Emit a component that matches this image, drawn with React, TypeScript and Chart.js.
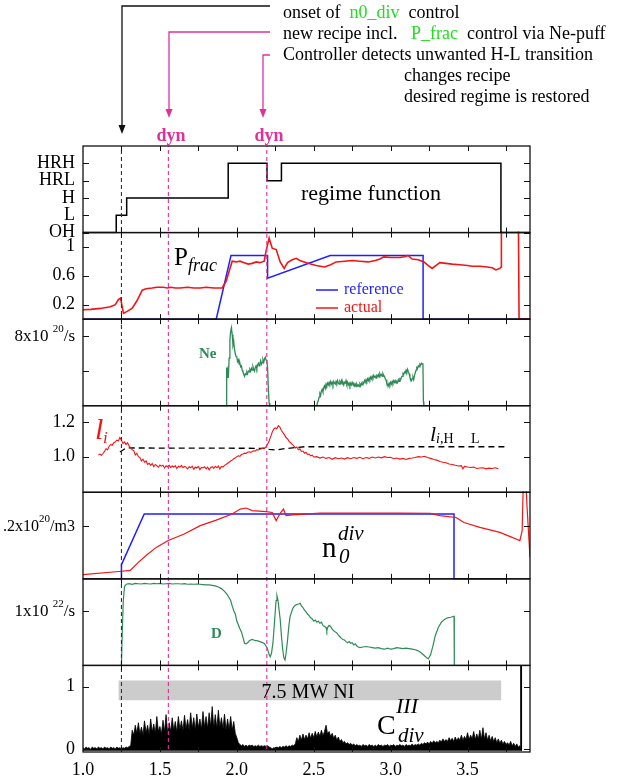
import React, { useEffect, useRef } from 'react';
import { Chart, registerables } from 'chart.js';

Chart.register(...registerables);

// ---------------- data ----------------
const X_MIN = 1.0;
const X_MAX = 3.906;
const xTickLabels = [1.0, 1.5, 2.0, 2.5, 3.0, 3.5];
const xMinorTicks = [1.25, 1.5, 1.75, 2.0, 2.25, 2.5, 2.75, 3.0, 3.25, 3.5, 3.75];

// event markers (time)
const markerOnset = 1.25;
const markerDyn = [1.555, 2.195];

// panel 0: regime function
const regimeLevels = ['OH', 'L', 'H', 'HRL', 'HRH'];
const regimeTickValues = [0, 1, 2, 3, 4];
const regimeTime = [1.0, 1.216, 1.284, 1.944, 2.196, 2.29, 3.717, 3.906];
const regimeValue = [0, 1, 2, 4, 3, 4, 0, 0];

// panel 1: P_frac
const pfracTicks = [0.2, 0.6, 1.0];
const pfracTickLabels = ['0.2', '0.6', '1'];
const pfracRefTime = [1.0, 1.866, 1.962, 2.2, 2.2, 2.607, 3.211, 3.211, 3.906];
const pfracRefValue = [0, 0, 0.877, 0.877, 0.566, 0.877, 0.877, 0, 0];
const pfracActTime = [1.0, 1.05, 1.113, 1.15, 1.178, 1.21, 1.23, 1.244, 1.263, 1.29, 1.32, 1.35, 1.385, 1.41, 1.45, 1.48, 1.52, 1.55, 1.57, 1.6, 1.632, 1.68, 1.72, 1.762, 1.8, 1.85, 1.905, 1.93, 1.97, 1.996, 2.02, 2.048, 2.074, 2.1, 2.126, 2.15, 2.178, 2.19, 2.21, 2.23, 2.256, 2.282, 2.308, 2.33, 2.36, 2.386, 2.41, 2.438, 2.48, 2.516, 2.57, 2.61, 2.646, 2.7, 2.75, 2.8, 2.854, 2.9, 2.93, 2.956, 3.0, 3.06, 3.09, 3.113, 3.14, 3.18, 3.217, 3.245, 3.27, 3.3, 3.32, 3.36, 3.4, 3.45, 3.5, 3.53, 3.58, 3.63, 3.66, 3.685, 3.71, 3.718, 3.72, 3.83, 3.835, 3.906];
const pfracActValue = [0.13, 0.135, 0.148, 0.16, 0.17, 0.2, 0.27, 0.29, 0.08, 0.11, 0.15, 0.25, 0.4, 0.42, 0.43, 0.44, 0.44, 0.43, 0.44, 0.43, 0.43, 0.44, 0.43, 0.43, 0.44, 0.43, 0.43, 0.52, 0.8, 0.79, 0.8, 0.78, 0.76, 0.77, 0.79, 0.78, 0.8, 0.94, 1.12, 0.98, 0.96, 0.79, 0.7, 0.78, 0.82, 0.84, 0.81, 0.79, 0.76, 0.74, 0.72, 0.75, 0.79, 0.8, 0.81, 0.8, 0.79, 0.81, 0.83, 0.86, 0.85, 0.85, 0.86, 0.88, 0.83, 0.82, 0.79, 0.74, 0.7, 0.75, 0.78, 0.77, 0.76, 0.75, 0.74, 0.73, 0.73, 0.72, 0.71, 0.68, 0.7, 0.72, 1.5, 1.5, 0, 0];

// panel 2: Ne puff (1e20/s)
const neTicks = [4, 8];
const neTime = [1.25, 1.93, 1.932, 1.936, 1.94, 1.945, 1.95, 1.955, 1.96, 1.965, 1.97, 1.975, 1.98, 1.985, 1.99, 1.995, 2.0, 2.005, 2.01, 2.015, 2.02, 2.025, 2.03, 2.035, 2.04, 2.045, 2.05, 2.055, 2.06, 2.065, 2.07, 2.075, 2.08, 2.085, 2.09, 2.095, 2.1, 2.105, 2.11, 2.115, 2.12, 2.125, 2.13, 2.135, 2.14, 2.145, 2.15, 2.155, 2.16, 2.165, 2.17, 2.175, 2.18, 2.185, 2.19, 2.195, 2.2, 2.205, 2.21, 2.215, 2.52, 2.525, 2.53, 2.535, 2.54, 2.545, 2.55, 2.555, 2.56, 2.565, 2.57, 2.575, 2.58, 2.585, 2.59, 2.595, 2.6, 2.605, 2.61, 2.615, 2.62, 2.625, 2.63, 2.635, 2.64, 2.645, 2.65, 2.655, 2.66, 2.665, 2.67, 2.675, 2.68, 2.685, 2.69, 2.695, 2.7, 2.705, 2.71, 2.715, 2.72, 2.725, 2.73, 2.735, 2.74, 2.745, 2.75, 2.755, 2.76, 2.765, 2.77, 2.775, 2.78, 2.785, 2.79, 2.795, 2.8, 2.805, 2.81, 2.815, 2.82, 2.825, 2.83, 2.835, 2.84, 2.845, 2.85, 2.855, 2.86, 2.865, 2.87, 2.875, 2.88, 2.885, 2.89, 2.895, 2.9, 2.905, 2.91, 2.915, 2.92, 2.925, 2.93, 2.935, 2.94, 2.945, 2.95, 2.955, 2.96, 2.965, 2.97, 2.975, 2.98, 2.985, 2.99, 2.995, 3.0, 3.005, 3.01, 3.015, 3.02, 3.025, 3.03, 3.035, 3.04, 3.045, 3.05, 3.055, 3.06, 3.065, 3.07, 3.075, 3.08, 3.085, 3.09, 3.095, 3.1, 3.105, 3.11, 3.115, 3.12, 3.125, 3.13, 3.135, 3.14, 3.145, 3.15, 3.155, 3.16, 3.165, 3.17, 3.175, 3.18, 3.185, 3.19, 3.195, 3.2, 3.205, 3.21, 3.213, 3.216, 3.4];
const neValue = [0, 0, 4.4, 3.0, 4.0, 3.2, 5.5, 7.6, 8.6, 9.0, 8.2, 7.0, 7.4, 6.5, 6.0, 5.7, 5.6, 5.1, 5.3, 4.8, 4.9, 4.5, 4.6, 4.1, 3.9, 3.6, 3.4, 3.7, 3.6, 3.9, 3.7, 4.0, 3.9, 4.2, 4.0, 4.3, 4.1, 4.5, 4.2, 4.0, 4.4, 4.6, 4.3, 4.7, 4.9, 4.6, 4.9, 5.2, 4.8, 5.0, 5.3, 5.0, 5.4, 5.6, 5.3, 5.2, 4.4, 2.0, 0.3, 0, 0, 0.4, 0.6, 1.0, 1.4, 1.2, 1.7, 1.9, 1.6, 2.1, 2.3, 2.0, 2.5, 2.3, 2.6, 2.4, 2.7, 2.5, 2.8, 2.5, 2.7, 2.4, 2.8, 2.6, 2.5, 2.8, 2.6, 2.9, 2.6, 2.5, 2.8, 2.6, 2.9, 2.5, 2.7, 2.4, 2.7, 2.6, 2.9, 2.5, 2.7, 2.4, 2.6, 2.3, 2.6, 2.4, 2.7, 2.5, 2.6, 2.3, 2.5, 2.2, 2.5, 2.3, 2.4, 2.2, 2.5, 2.3, 2.6, 2.4, 2.7, 2.6, 2.9, 2.7, 3.0, 2.8, 3.1, 2.9, 3.2, 3.0, 3.3, 3.1, 3.4, 3.2, 3.5, 3.3, 3.4, 3.2, 3.5, 3.4, 3.6, 3.3, 3.7, 3.5, 3.6, 3.4, 3.7, 3.5, 3.4, 3.1, 3.0, 2.6, 2.5, 2.3, 2.6, 2.4, 2.7, 2.5, 2.8, 2.6, 2.9, 2.7, 2.9, 2.6, 2.8, 2.7, 3.0, 2.8, 3.1, 3.0, 3.3, 3.4, 3.7, 3.6, 3.9, 3.8, 4.1, 3.9, 4.2, 3.9, 3.7, 3.3, 3.1, 2.9, 3.1, 3.3, 3.0, 3.5, 3.8, 4.1, 4.4, 4.3, 4.6, 4.5, 4.8, 4.7, 4.9, 4.8, 4.9, 0.5, 0, 0];

// panel 3: internal inductance l_i
const liTicks = [1.0, 1.2];
const liTickLabels = ['1.0', '1.2'];
const liTime = [1.1, 1.11, 1.12, 1.13, 1.14, 1.15, 1.16, 1.17, 1.18, 1.19, 1.2, 1.21, 1.22, 1.23, 1.24, 1.25, 1.26, 1.27, 1.28, 1.29, 1.3, 1.31, 1.32, 1.33, 1.34, 1.35, 1.36, 1.37, 1.38, 1.39, 1.4, 1.41, 1.42, 1.43, 1.44, 1.45, 1.46, 1.47, 1.48, 1.49, 1.5, 1.51, 1.52, 1.53, 1.54, 1.55, 1.56, 1.57, 1.58, 1.59, 1.6, 1.61, 1.62, 1.63, 1.64, 1.65, 1.66, 1.67, 1.68, 1.69, 1.7, 1.71, 1.72, 1.73, 1.74, 1.75, 1.76, 1.77, 1.78, 1.79, 1.8, 1.81, 1.82, 1.83, 1.84, 1.85, 1.86, 1.87, 1.88, 1.89, 1.9, 1.91, 1.92, 1.93, 1.94, 1.95, 1.96, 1.97, 1.98, 1.99, 2.0, 2.01, 2.02, 2.03, 2.04, 2.05, 2.06, 2.07, 2.08, 2.09, 2.1, 2.11, 2.12, 2.13, 2.14, 2.15, 2.16, 2.17, 2.18, 2.19, 2.2, 2.21, 2.22, 2.23, 2.24, 2.25, 2.26, 2.27, 2.28, 2.29, 2.3, 2.31, 2.32, 2.33, 2.34, 2.35, 2.36, 2.37, 2.38, 2.39, 2.4, 2.41, 2.42, 2.43, 2.44, 2.45, 2.46, 2.47, 2.48, 2.49, 2.5, 2.52, 2.54, 2.56, 2.58, 2.6, 2.62, 2.64, 2.66, 2.68, 2.7, 2.72, 2.74, 2.76, 2.78, 2.8, 2.82, 2.84, 2.86, 2.88, 2.9, 2.92, 2.94, 2.96, 2.98, 3.0, 3.02, 3.04, 3.06, 3.08, 3.1, 3.12, 3.14, 3.16, 3.18, 3.2, 3.22, 3.24, 3.26, 3.28, 3.3, 3.32, 3.34, 3.36, 3.38, 3.4, 3.42, 3.44, 3.46, 3.47, 3.48, 3.5, 3.52, 3.54, 3.56, 3.58, 3.6, 3.62, 3.64, 3.66, 3.68, 3.7];
const liValue = [1.01, 1.015, 1.008, 1.018, 1.03, 1.045, 1.04, 1.06, 1.07, 1.065, 1.08, 1.085, 1.095, 1.09, 1.11, 1.095, 1.075, 1.085, 1.07, 1.08, 1.06, 1.05, 1.04, 1.035, 1.01, 1.02, 1.0, 0.995, 0.975, 0.985, 0.968, 0.975, 0.955, 0.962, 0.95, 0.96, 0.942, 0.955, 0.948, 0.938, 0.952, 0.945, 0.95, 0.935, 0.948, 0.942, 0.95, 0.938, 0.946, 0.94, 0.948, 0.932, 0.945, 0.94, 0.95, 0.936, 0.944, 0.94, 0.93, 0.942, 0.936, 0.945, 0.928, 0.94, 0.935, 0.944, 0.925, 0.938, 0.935, 0.942, 0.93, 0.94, 0.924, 0.938, 0.942, 0.932, 0.944, 0.936, 0.946, 0.93, 0.944, 0.94, 0.95, 0.955, 0.962, 0.968, 0.975, 0.98, 0.988, 0.992, 1.0, 1.005, 1.002, 1.012, 1.015, 1.02, 1.018, 1.025, 1.028, 1.024, 1.03, 1.034, 1.032, 1.04, 1.038, 1.042, 1.045, 1.05, 1.048, 1.058, 1.072, 1.09, 1.115, 1.14, 1.158, 1.165, 1.16, 1.178, 1.17, 1.15, 1.138, 1.125, 1.11, 1.102, 1.088, 1.08, 1.07, 1.062, 1.05, 1.055, 1.04, 1.045, 1.03, 1.032, 1.02, 1.025, 1.012, 1.015, 1.005, 1.008, 0.998, 1.0, 0.992, 0.998, 0.99, 0.995, 0.985, 0.994, 0.988, 0.992, 0.986, 0.994, 0.988, 0.995, 0.99, 0.996, 0.988, 0.995, 0.99, 0.998, 0.992, 0.998, 0.993, 1.0, 0.995, 0.996, 0.988, 0.992, 0.986, 0.99, 0.984, 0.99, 0.992, 0.995, 1.0, 0.998, 1.002, 0.995, 0.99, 0.984, 0.98, 0.972, 0.968, 0.965, 0.958, 0.955, 0.95, 0.946, 0.948, 0.93, 0.944, 0.94, 0.938, 0.94, 0.932, 0.935, 0.936, 0.93, 0.934, 0.932, 0.936, 0.93];
const liHLTime = [1.24, 1.28, 2.18, 2.21, 2.25, 2.3, 2.44, 3.75];
const liHLValue = [1.027, 1.05, 1.048, 1.042, 1.038, 1.045, 1.057, 1.057];

// panel 4: divertor neutral density n0_div (1e20/m3)
const n0Ticks = [0.2];
const n0RefTime = [1.0, 1.25, 1.25, 1.398, 3.412, 3.412, 3.75];
const n0RefValue = [0, 0, 0.054, 0.247, 0.247, 0, 0];
const n0ActTime = [1.0, 1.25, 1.307, 1.36, 1.41, 1.476, 1.554, 1.658, 1.762, 1.866, 1.97, 2.022, 2.061, 2.1, 2.191, 2.23, 2.256, 2.282, 2.303, 2.32, 2.36, 2.438, 2.542, 2.8, 3.06, 3.257, 3.32, 3.425, 3.477, 3.58, 3.71, 3.79, 3.815, 3.84, 3.855, 3.868, 3.887, 3.906];
const n0ActValue = [0.016, 0.029, 0.032, 0.063, 0.089, 0.12, 0.146, 0.171, 0.203, 0.224, 0.247, 0.266, 0.27, 0.26, 0.256, 0.253, 0.222, 0.25, 0.266, 0.241, 0.244, 0.247, 0.251, 0.251, 0.251, 0.25, 0.241, 0.234, 0.215, 0.196, 0.177, 0.158, 0.152, 0.146, 0.184, 0.5, 0.272, 0.082];

// panel 5: D puff (1e22/s)
const dTicks = [1];
const dTime = [1.25, 1.255, 1.262, 1.27, 1.281, 1.3, 1.32, 1.34, 1.36, 1.38, 1.4, 1.42, 1.44, 1.46, 1.48, 1.5, 1.52, 1.54, 1.56, 1.58, 1.6, 1.62, 1.64, 1.66, 1.68, 1.7, 1.72, 1.74, 1.76, 1.78, 1.8, 1.82, 1.84, 1.86, 1.88, 1.9, 1.92, 1.935, 1.95, 1.96, 1.97, 1.98, 1.99, 2.0, 2.01, 2.02, 2.03, 2.04, 2.05, 2.06, 2.07, 2.08, 2.09, 2.1, 2.11, 2.12, 2.13, 2.14, 2.15, 2.16, 2.17, 2.18, 2.19, 2.2, 2.21, 2.217, 2.225, 2.235, 2.245, 2.255, 2.261, 2.268, 2.275, 2.282, 2.29, 2.298, 2.306, 2.313, 2.32, 2.329, 2.338, 2.346, 2.355, 2.365, 2.375, 2.385, 2.395, 2.405, 2.412, 2.42, 2.43, 2.44, 2.45, 2.46, 2.47, 2.48, 2.49, 2.5, 2.51, 2.52, 2.53, 2.54, 2.55, 2.56, 2.57, 2.58, 2.585, 2.59, 2.6, 2.61, 2.62, 2.63, 2.64, 2.65, 2.66, 2.67, 2.68, 2.69, 2.7, 2.71, 2.72, 2.73, 2.74, 2.75, 2.76, 2.77, 2.78, 2.79, 2.8, 2.82, 2.84, 2.86, 2.88, 2.9, 2.92, 2.94, 2.96, 2.98, 3.0, 3.02, 3.04, 3.06, 3.08, 3.1, 3.12, 3.14, 3.16, 3.18, 3.2, 3.22, 3.235, 3.245, 3.26, 3.275, 3.29, 3.31, 3.33, 3.35, 3.37, 3.39, 3.4, 3.412, 3.414];
const dValue = [0, 0.6, 1.2, 1.46, 1.5, 1.51, 1.5, 1.515, 1.51, 1.505, 1.515, 1.51, 1.505, 1.515, 1.51, 1.515, 1.505, 1.51, 1.515, 1.505, 1.51, 1.51, 1.505, 1.51, 1.5, 1.505, 1.5, 1.505, 1.5, 1.495, 1.49, 1.49, 1.48, 1.47, 1.45, 1.42, 1.37, 1.32, 1.25, 1.2, 1.1, 1.01, 0.95, 0.82, 0.75, 0.68, 0.62, 0.52, 0.41, 0.4, 0.42, 0.45, 0.47, 0.48, 0.47, 0.46, 0.46, 0.45, 0.44, 0.43, 0.42, 0.4, 0.36, 0.3, 0.2, 0.16, 0.22, 0.42, 0.8, 1.2, 1.29, 1.2, 1.02, 0.85, 0.55, 0.3, 0.14, 0.1, 0.22, 0.45, 0.72, 0.9, 0.98, 1.06, 1.1, 1.12, 1.13, 1.14, 1.15, 1.1, 1.07, 1.02, 0.99, 0.95, 0.92, 0.88, 0.86, 0.82, 0.84, 0.8, 0.82, 0.78, 0.8, 0.74, 0.72, 0.7, 0.64, 0.7, 0.74, 0.72, 0.67, 0.64, 0.62, 0.6, 0.56, 0.53, 0.5, 0.48, 0.47, 0.44, 0.42, 0.44, 0.41, 0.42, 0.38, 0.4, 0.36, 0.34, 0.33, 0.34, 0.35, 0.34, 0.33, 0.32, 0.33, 0.31, 0.3, 0.32, 0.3, 0.31, 0.33, 0.32, 0.31, 0.32, 0.31, 0.3, 0.29, 0.27, 0.23, 0.18, 0.14, 0.12, 0.2, 0.36, 0.55, 0.7, 0.8, 0.85, 0.88, 0.89, 0.9, 0.91, 0];

// panel 6: C III divertor radiation
const ciiiTicks = [0, 1];
const ciiiTime = [1.0, 1.01, 1.02, 1.03, 1.04, 1.05, 1.06, 1.07, 1.08, 1.09, 1.1, 1.11, 1.12, 1.13, 1.14, 1.15, 1.16, 1.17, 1.18, 1.19, 1.2, 1.21, 1.22, 1.23, 1.24, 1.25, 1.26, 1.27, 1.28, 1.29, 1.3, 1.31, 1.32, 1.33, 1.34, 1.35, 1.36, 1.37, 1.38, 1.39, 1.4, 1.41, 1.42, 1.43, 1.44, 1.45, 1.46, 1.47, 1.48, 1.49, 1.5, 1.51, 1.52, 1.53, 1.54, 1.55, 1.56, 1.57, 1.58, 1.59, 1.6, 1.61, 1.62, 1.63, 1.64, 1.65, 1.66, 1.67, 1.68, 1.69, 1.7, 1.71, 1.72, 1.73, 1.74, 1.75, 1.76, 1.77, 1.78, 1.79, 1.8, 1.81, 1.82, 1.83, 1.84, 1.85, 1.86, 1.87, 1.88, 1.89, 1.9, 1.91, 1.92, 1.93, 1.94, 1.95, 1.96, 1.97, 1.98, 1.99, 2.0, 2.01, 2.02, 2.03, 2.04, 2.05, 2.06, 2.07, 2.08, 2.09, 2.1, 2.11, 2.12, 2.13, 2.14, 2.15, 2.16, 2.17, 2.18, 2.19, 2.2, 2.21, 2.22, 2.23, 2.24, 2.25, 2.26, 2.27, 2.28, 2.29, 2.3, 2.31, 2.32, 2.33, 2.34, 2.35, 2.36, 2.37, 2.38, 2.39, 2.4, 2.41, 2.42, 2.43, 2.44, 2.45, 2.46, 2.47, 2.48, 2.49, 2.5, 2.51, 2.52, 2.53, 2.54, 2.55, 2.56, 2.57, 2.58, 2.59, 2.6, 2.61, 2.62, 2.63, 2.64, 2.65, 2.66, 2.67, 2.68, 2.69, 2.7, 2.71, 2.72, 2.73, 2.74, 2.75, 2.76, 2.77, 2.78, 2.79, 2.8, 2.81, 2.82, 2.83, 2.84, 2.85, 2.86, 2.87, 2.88, 2.89, 2.9, 2.91, 2.92, 2.93, 2.94, 2.95, 2.96, 2.97, 2.98, 2.99, 3.0, 3.01, 3.02, 3.03, 3.04, 3.05, 3.06, 3.07, 3.08, 3.09, 3.1, 3.11, 3.12, 3.13, 3.14, 3.15, 3.16, 3.17, 3.18, 3.19, 3.2, 3.21, 3.22, 3.23, 3.24, 3.25, 3.26, 3.27, 3.28, 3.29, 3.3, 3.31, 3.32, 3.33, 3.34, 3.35, 3.36, 3.37, 3.38, 3.39, 3.4, 3.41, 3.42, 3.43, 3.44, 3.45, 3.46, 3.47, 3.48, 3.49, 3.5, 3.51, 3.52, 3.53, 3.54, 3.55, 3.56, 3.57, 3.58, 3.59, 3.6, 3.61, 3.62, 3.63, 3.64, 3.65, 3.66, 3.67, 3.68, 3.69, 3.7, 3.71, 3.72, 3.73, 3.74, 3.75, 3.76, 3.77, 3.78, 3.79, 3.8, 3.81, 3.82, 3.83, 3.84, 3.843, 3.845, 3.849, 3.851];
const ciiiValue = [0.02, 0.0, 0.03, 0.01, 0.02, -0.01, 0.03, 0.01, 0.02, 0.0, 0.03, 0.01, 0.02, 0.0, 0.03, 0.01, 0.02, 0.0, 0.03, 0.01, 0.02, 0.0, 0.03, 0.01, 0.02, 0.0, 0.02, 0.01, 0.03, 0.02, 0.04, 0.05, 0.3, 0.22, 0.38, 0.25, 0.42, 0.24, 0.35, 0.22, 0.45, 0.26, 0.38, 0.23, 0.48, 0.27, 0.4, 0.25, 0.52, 0.28, 0.36, 0.24, 0.46, 0.27, 0.55, 0.26, 0.42, 0.28, 0.5, 0.3, 0.44, 0.27, 0.52, 0.31, 0.45, 0.29, 0.54, 0.32, 0.47, 0.3, 0.58, 0.33, 0.5, 0.3, 0.56, 0.34, 0.48, 0.32, 0.6, 0.35, 0.52, 0.33, 0.58, 0.36, 0.68, 0.34, 0.55, 0.33, 0.62, 0.35, 0.5, 0.32, 0.56, 0.3, 0.48, 0.31, 0.52, 0.3, 0.44, 0.25, 0.18, 0.1, 0.07, 0.05, 0.07, 0.04, 0.06, 0.04, 0.06, 0.05, 0.06, 0.04, 0.05, 0.04, 0.06, 0.04, 0.05, 0.04, 0.05, 0.04, 0.05, 0.03, 0.02, 0.0, 0.02, 0.01, 0.03, 0.02, 0.04, 0.02, 0.04, 0.03, 0.05, 0.03, 0.05, 0.04, 0.06, 0.05, 0.08, 0.18, 0.12, 0.22, 0.14, 0.24, 0.15, 0.22, 0.16, 0.26, 0.17, 0.25, 0.18, 0.28, 0.19, 0.27, 0.2, 0.3, 0.21, 0.28, 0.38, 0.24, 0.28, 0.2, 0.25, 0.17, 0.22, 0.14, 0.19, 0.12, 0.15, 0.1, 0.12, 0.08, 0.1, 0.07, 0.09, 0.06, 0.08, 0.05, 0.07, 0.05, 0.06, 0.04, 0.07, 0.05, 0.06, 0.04, 0.07, 0.05, 0.06, 0.04, 0.06, 0.04, 0.07, 0.05, 0.06, 0.04, 0.06, 0.05, 0.07, 0.04, 0.06, 0.05, 0.07, 0.04, 0.06, 0.05, 0.07, 0.05, 0.06, 0.04, 0.07, 0.05, 0.06, 0.05, 0.08, 0.05, 0.07, 0.06, 0.08, 0.06, 0.09, 0.07, 0.1, 0.08, 0.11, 0.08, 0.12, 0.09, 0.13, 0.1, 0.12, 0.1, 0.14, 0.11, 0.16, 0.12, 0.15, 0.12, 0.18, 0.13, 0.17, 0.12, 0.19, 0.13, 0.18, 0.14, 0.22, 0.14, 0.2, 0.15, 0.26, 0.15, 0.22, 0.16, 0.28, 0.15, 0.24, 0.16, 0.3, 0.15, 0.34, 0.16, 0.26, 0.14, 0.22, 0.13, 0.2, 0.12, 0.18, 0.1, 0.16, 0.09, 0.14, 0.08, 0.12, 0.07, 0.1, 0.06, 0.12, 0.05, 0.09, 0.04, 0.08, 0.03, 0.05, 0.0, 1.34, 1.34, -0.03];

// heating window: 7.5 MW NI
const niTime = [1.23, 3.72];
const niUpper = [1.1, 1.1];
const niLower = [0.78, 0.78];

// panel ranges (value at bottom, value at top)
const panelRanges = [
  [0, 5],
  [0, 1.195],
  [0, 10],
  [0.795, 1.293],
  [0, 0.33],
  [0, 1.6],
  [-0.05, 1.34],
];

// ---------------- layout constants ----------------
const W = 624;
const H = 778;
const PAD_LEFT = 83;
const PAD_RIGHT = 94;
const PAD_TOP = 146;
const X_AXIS_H = 26;
const NPANEL = 7;
const BAND = (H - PAD_TOP - X_AXIS_H) / NPANEL;

const SERIF = '"Liberation Serif", "Times New Roman", serif';
const RED = '#f41414';
const BLUE = '#1f1fff';
const GREEN = '#2e8b57';
const MAGENTA = '#e0309a';
const LIME = '#22dd22';

function pts(xs: number[], ys: number[]) {
  return xs.map((x, i) => ({ x, y: ys[i] }));
}

function axisRange(k: number) {
  const [a, b] = panelRanges[k];
  const span = b - a;
  return { min: a - (NPANEL - 1 - k) * span, max: b + k * span };
}

function panelClip(k: number) {
  return { left: 0, right: 0, top: -(k * BAND) + 1, bottom: -((NPANEL - 1 - k) * BAND) + 1 };
}

function lineDs(label: string, xs: number[], ys: number[], k: number, color: string, width: number, extra: any = {}) {
  return {
    label,
    data: pts(xs, ys),
    yAxisID: 'y' + k,
    borderColor: color,
    backgroundColor: color,
    borderWidth: width,
    pointRadius: 0,
    tension: 0,
    fill: false,
    clip: panelClip(k),
    ...extra,
  };
}

function vline(label: string, x: number, color: string) {
  return {
    label,
    data: [{ x, y: 0.005 }, { x, y: 1 }],
    yAxisID: 'yAll',
    borderColor: color,
    borderWidth: 1.1,
    borderDash: [4, 3],
    pointRadius: 0,
    fill: false,
  };
}

// draw a sequence of text runs [text, font, dy, color?]
function drawRuns(ctx: CanvasRenderingContext2D, x: number, y: number, runs: [string, string, number, string?][], align: 'left' | 'right' = 'left') {
  let total = 0;
  for (const r of runs) {
    ctx.font = r[1];
    total += ctx.measureText(r[0]).width;
  }
  let cx = align === 'right' ? x - total : x;
  for (const r of runs) {
    ctx.font = r[1];
    if (r[3]) ctx.fillStyle = r[3];
    ctx.fillText(r[0], cx, y + r[2]);
    cx += ctx.measureText(r[0]).width;
  }
}

const f = (size: number, style = '') => `${style} ${size}px ${SERIF}`.trim();

const panelPlugin = {
  id: 'panelFrames',
  afterDraw(chart: any) {
    const ctx: CanvasRenderingContext2D = chart.ctx;
    const { left, right } = chart.chartArea;
    const xs = chart.scales.x;
    ctx.save();
    ctx.lineCap = 'butt';

    const line = (x1: number, y1: number, x2: number, y2: number) => {
      ctx.beginPath();
      ctx.moveTo(x1, y1);
      ctx.lineTo(x2, y2);
      ctx.stroke();
    };

    const tickSets = [regimeTickValues, pfracTicks, neTicks, liTicks, n0Ticks, dTicks, ciiiTicks];
    for (let k = 0; k < NPANEL; k++) {
      const ys = chart.scales['y' + k];
      const pTop = ys.getPixelForValue(panelRanges[k][1]);
      const pBot = ys.getPixelForValue(panelRanges[k][0]);
      ctx.strokeStyle = '#111';
      ctx.lineWidth = 1.3;
      ctx.strokeRect(left, pTop, right - left, pBot - pTop);
      ctx.lineWidth = 1;
      for (const v of xMinorTicks) {
        const px = Math.round(xs.getPixelForValue(v)) + 0.5;
        line(px, pTop, px, pTop + 5);
        line(px, pBot, px, pBot - 5);
      }
      for (const v of tickSets[k]) {
        const py = Math.round(ys.getPixelForValue(v)) + 0.5;
        line(left, py, left + 6, py);
        line(right, py, right - 6, py);
      }
    }

    // y tick labels
    ctx.fillStyle = '#000';
    ctx.textBaseline = 'middle';
    const LX = 75;
    const y0 = chart.scales.y0;
    regimeTickValues.forEach((v, i) => {
      drawRuns(ctx, LX, y0.getPixelForValue(v), [[regimeLevels[i], f(18), 0]], 'right');
    });
    const y1 = chart.scales.y1;
    pfracTicks.forEach((v, i) => drawRuns(ctx, LX, y1.getPixelForValue(v), [[pfracTickLabels[i], f(18), 0]], 'right'));
    const y2 = chart.scales.y2;
    drawRuns(ctx, LX, y2.getPixelForValue(8), [['8x10 ', f(17), 0], ['20', f(11), -7], ['/s', f(17), 0]], 'right');
    const y3 = chart.scales.y3;
    liTicks.forEach((v, i) => drawRuns(ctx, LX, y3.getPixelForValue(v), [[liTickLabels[i], f(18), 0]], 'right'));
    const y4 = chart.scales.y4;
    drawRuns(ctx, LX, y4.getPixelForValue(0.2), [['.2x10', f(16), 0], ['20', f(11), -7], ['/m3', f(16), 0]], 'right');
    const y5 = chart.scales.y5;
    drawRuns(ctx, LX, y5.getPixelForValue(1), [['1x10 ', f(17), 0], ['22', f(11), -7], ['/s', f(17), 0]], 'right');
    const y6 = chart.scales.y6;
    ciiiTicks.forEach((v) => drawRuns(ctx, LX, y6.getPixelForValue(v), [[String(v), f(18), 0]], 'right'));

    // panel annotations
    ctx.textBaseline = 'alphabetic';
    ctx.fillStyle = '#000';
    ctx.font = f(22);
    ctx.fillText('regime function', 301, 200);

    // P_frac
    drawRuns(ctx, 174, 265, [['P', f(25), 0, '#000'], ['frac', f(18, 'italic'), 6, '#000']]);
    // legend
    ctx.lineWidth = 1.5;
    ctx.strokeStyle = BLUE;
    line(316, 290, 338, 290);
    ctx.strokeStyle = RED;
    line(316, 308, 338, 308);
    ctx.textBaseline = 'middle';
    ctx.font = f(16);
    ctx.fillStyle = BLUE;
    ctx.fillText('reference', 344, 290);
    ctx.fillStyle = RED;
    ctx.fillText('actual', 344, 308);

    // Ne
    ctx.font = f(15, 'bold');
    ctx.fillStyle = GREEN;
    ctx.fillText('Ne', 199, 354);
    // D
    ctx.fillText('D', 211, 634);

    // l_i
    ctx.textBaseline = 'alphabetic';
    drawRuns(ctx, 95, 439, [['l', f(30, 'italic'), 0, RED]]);
    drawRuns(ctx, 103, 443, [['i', f(17, 'italic'), 0, RED]]);
    // l_i,H->L
    drawRuns(ctx, 430, 441, [['l', f(22, 'italic'), 0, '#000'], ['i', f(14, 'italic'), 2, '#000'], [',H', f(14), 2, '#000'], ['     L', f(14), 2, '#000']]);

    // n0 div
    ctx.fillStyle = '#000';
    ctx.font = f(29);
    ctx.fillText('n', 322, 557);
    ctx.font = f(21, 'italic');
    ctx.fillText('0', 339, 563);
    ctx.fillText('div', 338, 540);

    // C III div
    ctx.font = f(28);
    ctx.fillText('C', 377, 734);
    ctx.font = f(22, 'italic');
    ctx.fillText('III', 396, 713);
    ctx.font = f(21, 'italic');
    ctx.fillText('div', 398, 742);

    // NI box text
    ctx.font = f(20);
    ctx.textAlign = 'center';
    ctx.textBaseline = 'middle';
    ctx.fillText('7.5 MW NI', 308, 693);
    ctx.textAlign = 'left';

    // ---------- top annotations ----------
    const arrowDown = (x: number, yTop: number, yTip: number, xEnd: number, color: string) => {
      ctx.strokeStyle = color;
      ctx.fillStyle = color;
      ctx.lineWidth = 1.3;
      ctx.beginPath();
      ctx.moveTo(xEnd, yTop);
      ctx.lineTo(x, yTop);
      ctx.lineTo(x, yTip - 7);
      ctx.stroke();
      ctx.beginPath();
      ctx.moveTo(x - 3.5, yTip - 9);
      ctx.lineTo(x + 3.5, yTip - 9);
      ctx.lineTo(x, yTip);
      ctx.closePath();
      ctx.fill();
    };
    arrowDown(122, 6, 134, 270, '#111');
    arrowDown(169, 32, 118, 270, MAGENTA);
    arrowDown(263, 55, 118, 270, MAGENTA);

    ctx.textBaseline = 'middle';
    drawRuns(ctx, 283, 13, [['onset of  ', f(18), 0, '#000'], ['n0_div', f(18), 0, LIME], ['  control', f(18), 0, '#000']]);
    drawRuns(ctx, 283, 34, [['new recipe incl.   ', f(18), 0, '#000'], ['P_frac', f(18), 0, LIME], ['  control via Ne-puff', f(18), 0, '#000']]);
    drawRuns(ctx, 283, 55, [['Controller detects unwanted H-L transition', f(18), 0, '#000']]);
    drawRuns(ctx, 404, 76, [['changes recipe', f(18), 0, '#000']]);
    drawRuns(ctx, 404, 97, [['desired regime is restored', f(18), 0, '#000']]);

    ctx.fillStyle = MAGENTA;
    ctx.font = f(18, 'bold');
    ctx.textAlign = 'center';
    ctx.fillText('dyn', 171, 136);
    ctx.fillText('dyn', 269, 136);
    ctx.restore();
  },
};

export default function App() {
  const canvasRef = useRef<HTMLCanvasElement | null>(null);

  useEffect(() => {
    const canvas = canvasRef.current;
    if (!canvas) return;

    const yScales: any = {};
    for (let k = 0; k < NPANEL; k++) {
      const r = axisRange(k);
      yScales['y' + k] = { type: 'linear', display: false, min: r.min, max: r.max };
    }
    yScales.yAll = { type: 'linear', display: false, min: 0, max: 1 };

    const datasets: any[] = [
      vline('onset', markerOnset, '#333'),
      vline('dyn1', markerDyn[0], MAGENTA),
      vline('dyn2', markerDyn[1], MAGENTA),
      lineDs('regime', regimeTime, regimeValue, 0, '#000', 1.5, { stepped: 'before' }),
      lineDs('actual', pfracActTime, pfracActValue, 1, RED, 1.6),
      lineDs('reference', pfracRefTime, pfracRefValue, 1, BLUE, 1.5),
      lineDs('Ne', neTime, neValue, 2, GREEN, 1.3),
      lineDs('li', liTime, liValue, 3, RED, 1.1),
      lineDs('liHL', liHLTime, liHLValue, 3, '#000', 1.3, { borderDash: [6, 4] }),
      lineDs('n0 actual', n0ActTime, n0ActValue, 4, RED, 1.2),
      lineDs('n0 reference', n0RefTime, n0RefValue, 4, BLUE, 1.5),
      lineDs('D', dTime, dValue, 5, GREEN, 1.2),
      lineDs('CIII', ciiiTime, ciiiValue, 6, '#000', 0.8, { fill: { value: -0.03 }, backgroundColor: '#000' }),
      lineDs('NI upper', niTime, niUpper, 6, 'rgba(0,0,0,0)', 0, { fill: '+1', backgroundColor: '#cccccc' }),
      lineDs('NI lower', niTime, niLower, 6, 'rgba(0,0,0,0)', 0),
    ];

    const chart = new Chart(canvas, {
      type: 'line',
      data: { datasets },
      options: {
        responsive: false,
        animation: false,
        devicePixelRatio: 1,
        events: [],
        layout: { padding: { left: PAD_LEFT, right: PAD_RIGHT, top: PAD_TOP, bottom: 0 } },
        plugins: { legend: { display: false }, tooltip: { enabled: false } },
        scales: {
          x: {
            type: 'linear',
            min: X_MIN,
            max: X_MAX,
            grid: { display: false, drawTicks: false },
            border: { display: false },
            afterBuildTicks: (axis: any) => {
              axis.ticks = xTickLabels.map((v) => ({ value: v }));
            },
            afterFit: (axis: any) => {
              axis.height = X_AXIS_H;
            },
            ticks: {
              autoSkip: false,
              maxRotation: 0,
              padding: 7,
              color: '#000',
              font: { family: SERIF, size: 18 },
              callback: (v: any) => Number(v).toFixed(1),
            },
          },
          ...yScales,
        },
      },
      plugins: [panelPlugin],
    } as any);

    return () => chart.destroy();
  }, []);

  return (
    <div style={{ position: 'absolute', left: 0, top: 0, width: W, height: H, background: '#fff' }}>
      <canvas ref={canvasRef} width={W} height={H} style={{ display: 'block' }} />
    </div>
  );
}
